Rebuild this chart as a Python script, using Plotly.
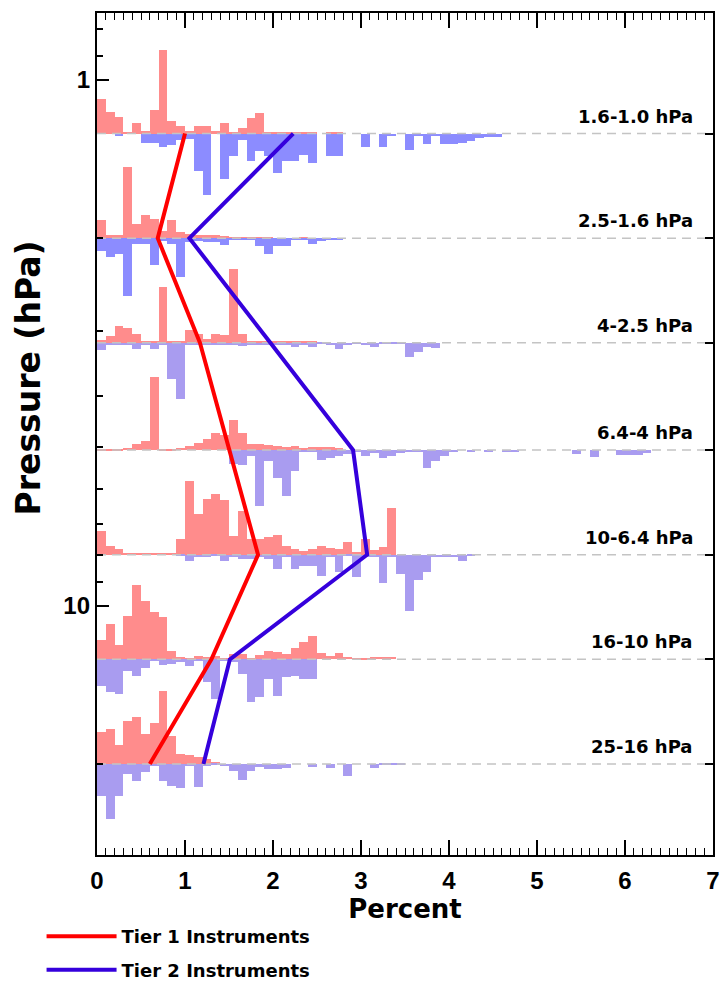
import math
import plotly.graph_objects as go

# ---------------- data ----------------
level_labels = ["1.6-1.0 hPa", "2.5-1.6 hPa", "4-2.5 hPa", "6.4-4 hPa",
                "10-6.4 hPa", "16-10 hPa", "25-16 hPa"]
level_bottom = [1.6, 2.5, 4.0, 6.4, 10.0, 16.0, 25.0]   # hPa
level_top = [1.0, 1.6, 2.5, 4.0, 6.4, 10.0, 16.0]        # hPa

tier1_percent = [1.00, 0.69, 1.17, 1.51, 1.83, 1.30, 0.60]
tier2_percent = [2.23, 1.05, 1.97, 2.91, 3.07, 1.51, 1.21]

bin_width = 0.1  # percent

# histogram frequencies per 0.1 % bin (relative units), Tier 1 (red, upward) and Tier 2 (blue, downward)
t1_hist_1 = [35, 22, 17, 1, 11, 3, 24, 84, 13, 8, 3, 8, 8, 3, 11, 2, 6, 16, 21, 1, 2, 1, 1, 1, 1, 0, 2, 1]
t2_hist_1 = [0, 0, 2, 0, 0, 9, 9, 13, 11, 6, 5, 37, 61, 0, 45, 22, 6, 27, 17, 22, 39, 27, 27, 21, 29, 0,
             22, 22, 0, 0, 13, 0, 13, 2, 0, 16, 2, 10, 2, 10, 10, 9, 7, 4, 3, 3]
t1_hist_2 = [18, 3, 3, 71, 14, 23, 19, 7, 18, 6, 4, 3, 3, 3, 2, 1, 1, 1, 1, 1, 0, 0, 0, 1]
t2_hist_2 = [13, 19, 16, 58, 6, 6, 27, 3, 6, 39, 4, 3, 4, 4, 7, 1, 1, 1, 8, 16, 8, 8, 1, 1, 6, 3, 2, 2]
t1_hist_3 = [3, 7, 17, 15, 9, 1, 1, 56, 2, 2, 13, 9, 4, 9, 8, 74, 9, 2, 1, 1, 1, 1, 1, 1, 1]
t2_hist_3 = [7, 2, 2, 2, 6, 2, 6, 2, 36, 56, 2, 2, 2, 2, 2, 2, 3, 2, 2, 2, 2, 2, 4, 2, 4, 1, 2, 6, 2, 1,
             2, 4, 1, 1, 1, 14, 9, 4, 5]
t1_hist_4 = [1, 1, 1, 2, 6, 9, 73, 1, 1, 2, 4, 7, 11, 17, 15, 30, 17, 6, 6, 5, 4, 3, 4, 2, 3, 3, 3, 2]
t2_hist_4 = [0, 0, 0, 0, 0, 0, 0, 0, 0, 0, 0, 0, 0, 0, 0, 14, 15, 6, 56, 11, 28, 46, 21, 1, 1, 10, 8, 6,
             4, 2, 6, 3, 8, 6, 3, 1, 2, 18, 11, 6, 2, 0, 1, 0, 1, 0, 1, 1, 0, 0, 0, 0, 0, 0, 4, 0, 7,
             0, 0, 5, 5, 5, 3]
t1_hist_5 = [24, 9, 6, 2, 2, 1, 2, 1, 2, 16, 74, 41, 56, 61, 55, 19, 44, 16, 16, 18, 20, 9, 6, 4, 6, 9,
             7, 6, 13, 3, 16, 5, 8, 47]
t2_hist_5 = [0, 0, 0, 0, 0, 0, 0, 0, 0, 1, 6, 2, 2, 1, 6, 2, 4, 4, 2, 4, 14, 2, 14, 11, 11, 21, 2, 17,
             1, 22, 2, 2, 28, 2, 19, 56, 25, 17, 2, 2, 2, 6, 1]
t1_hist_6 = [19, 35, 14, 43, 74, 58, 47, 42, 8, 2, 1, 3, 2, 3, 1, 5, 5, 1, 4, 8, 7, 5, 11, 17, 23, 6, 3,
             6, 2, 1, 1, 2, 2, 2]
t2_hist_6 = [27, 33, 35, 12, 17, 9, 2, 6, 5, 3, 7, 2, 23, 40, 2, 3, 15, 43, 38, 20, 37, 18, 17, 20, 20]
t1_hist_7 = [32, 35, 19, 43, 47, 30, 41, 73, 28, 10, 9, 7, 5, 2]
t2_hist_7 = [32, 55, 32, 10, 17, 8, 2, 17, 22, 24, 2, 23, 2, 1, 2, 7, 16, 7, 3, 5, 5, 4, 0, 0, 3, 0, 4,
             0, 12, 0, 0, 4, 1, 1, 1]

tier1_hists = [t1_hist_1, t1_hist_2, t1_hist_3, t1_hist_4, t1_hist_5, t1_hist_6, t1_hist_7]
tier2_hists = [t2_hist_1, t2_hist_2, t2_hist_3, t2_hist_4, t2_hist_5, t2_hist_6, t2_hist_7]

x_ticks = [0, 1, 2, 3, 4, 5, 6, 7]
p_major_ticks = [1, 10]
p_minor_ticks = [0.8, 0.9, 2, 3, 4, 5, 6, 7, 8, 9, 20]
y_title = "Pressure (hPa)"
x_title = "Percent"

# ---------------- styling / scales ----------------
FONT = "DejaVu Sans, Verdana, sans-serif"
TICK_FONT = "Liberation Sans, Arial, Helvetica, sans-serif"
P_TOP, P_BOTTOM = 0.746, 29.8
HIST_SCALE = 1.0 / 526.0        # histogram units -> decades of pressure on the plot
RED_FILL = "#ff8c8c"
BLUE_FILL = ["#8c8cff", "#8c8cff", "#a99cf0", "#a99cf0", "#a99cf0", "#a99cf0", "#a99cf0"]
RED_LINE = "#ff0000"
BLUE_LINE = "#3500dc"

centers = [math.sqrt(a * b) for a, b in zip(level_bottom, level_top)]
neg_log_c = [-math.log10(c) for c in centers]

fig = go.Figure()

# histogram bars (linear axis y = -log10(p))
for k in range(len(level_labels)):
    h1 = tier1_hists[k]
    h2 = tier2_hists[k]
    x1 = [bin_width * (i + 0.5) for i in range(len(h1))]
    x2 = [bin_width * (i + 0.5) for i in range(len(h2))]
    fig.add_trace(go.Bar(x=x1, y=[v * HIST_SCALE for v in h1], base=neg_log_c[k],
                         width=bin_width, marker=dict(color=RED_FILL, line=dict(width=0)),
                         showlegend=False, hoverinfo="skip", xaxis="x", yaxis="y"))
    fig.add_trace(go.Bar(x=x2, y=[-v * HIST_SCALE for v in h2], base=neg_log_c[k],
                         width=bin_width, marker=dict(color=BLUE_FILL[k], line=dict(width=0)),
                         showlegend=False, hoverinfo="skip", xaxis="x", yaxis="y"))

# dashed reference lines at each layer
for k, c in enumerate(centers):
    fig.add_trace(go.Scatter(x=[x_ticks[0], x_ticks[-1]], y=[c, c], mode="lines",
                             line=dict(color="#c4c4c4", width=1.5, dash="9px,6px"),
                             showlegend=False, hoverinfo="skip", xaxis="x", yaxis="y2"))

# tier lines
fig.add_trace(go.Scatter(x=tier1_percent, y=centers, mode="lines", name="Tier 1 Instruments",
                         line=dict(color=RED_LINE, width=4), legendgroup="a",
                         xaxis="x", yaxis="y2"))
fig.add_trace(go.Scatter(x=tier2_percent, y=centers, mode="lines", name="Tier 2 Instruments",
                         line=dict(color=BLUE_LINE, width=4), legendgroup="b",
                         xaxis="x", yaxis="y2"))

ann = []
for k, lab in enumerate(level_labels):
    ann.append(dict(text=lab, x=6.80, y=neg_log_c[k], xref="x", yref="y", xanchor="right",
                    yanchor="bottom", yshift=5, showarrow=False,
                    font=dict(family=FONT, size=18, color="black", weight="bold")))
# y-axis title
ann.append(dict(text=y_title, x=-0.112, y=0.566, xref="paper", yref="paper", textangle=-90,
                xanchor="center", yanchor="middle", showarrow=False,
                font=dict(family=FONT, size=33, color="black", weight="bold")))

log_range = [math.log10(P_BOTTOM), math.log10(P_TOP)]

fig.update_layout(
    width=722, height=982,
    margin=dict(l=97, r=9, t=13, b=127, autoexpand=False),
    paper_bgcolor="white", plot_bgcolor="white",
    barmode="overlay", bargap=0,
    font=dict(family=FONT, color="black"),
    annotations=ann,
    xaxis=dict(range=[x_ticks[0], x_ticks[-1]], tickvals=x_ticks, ticks="inside", ticklen=15,
               tickwidth=1.5, tickcolor="black", showline=True, linewidth=2, linecolor="black",
               mirror="ticks", showgrid=False, zeroline=False,
               minor=dict(dtick=bin_width, ticks="inside", ticklen=7, tickwidth=1, tickcolor="black"),
               tickfont=dict(family=TICK_FONT, size=24, weight="bold"), ticklabelstandoff=3,
               title=dict(text=x_title, font=dict(family=FONT, size=26, weight="bold"), standoff=4)),
    yaxis=dict(range=[-log_range[0], -log_range[1]], showticklabels=False, ticks="",
               showline=True, linewidth=2, linecolor="black", mirror=True,
               showgrid=False, zeroline=False),
    yaxis2=dict(type="log", range=log_range, overlaying="y", side="left", anchor="x",
                tickvals=p_major_ticks, ticktext=[str(v) for v in p_major_ticks],
                ticks="inside", ticklen=12, tickwidth=2, tickcolor="black",
                minor=dict(tickvals=p_minor_ticks, ticks="inside", ticklen=6, tickwidth=2,
                           tickcolor="black"),
                showline=False, showgrid=False, zeroline=False,
                tickfont=dict(family=TICK_FONT, size=24, weight="bold"), ticklabelstandoff=6),
    yaxis3=dict(type="log", range=log_range, overlaying="y", side="right", anchor="x",
                tickvals=centers, ticks="inside", ticklen=8, tickwidth=2, tickcolor="black",
                showticklabels=False, showline=False, showgrid=False, zeroline=False),
    legend=dict(x=-0.09, xanchor="left", y=-0.075, yanchor="top", orientation="v",
                font=dict(family=FONT, size=18, weight="bold"), tracegroupgap=7,
                itemwidth=70, bgcolor="rgba(0,0,0,0)"),
    showlegend=True,
)

# dummy trace so yaxis3 is drawn
fig.add_trace(go.Scatter(x=[None], y=[None], xaxis="x", yaxis="y3", showlegend=False,
                         hoverinfo="skip"))

fig.write_html("out.html")
